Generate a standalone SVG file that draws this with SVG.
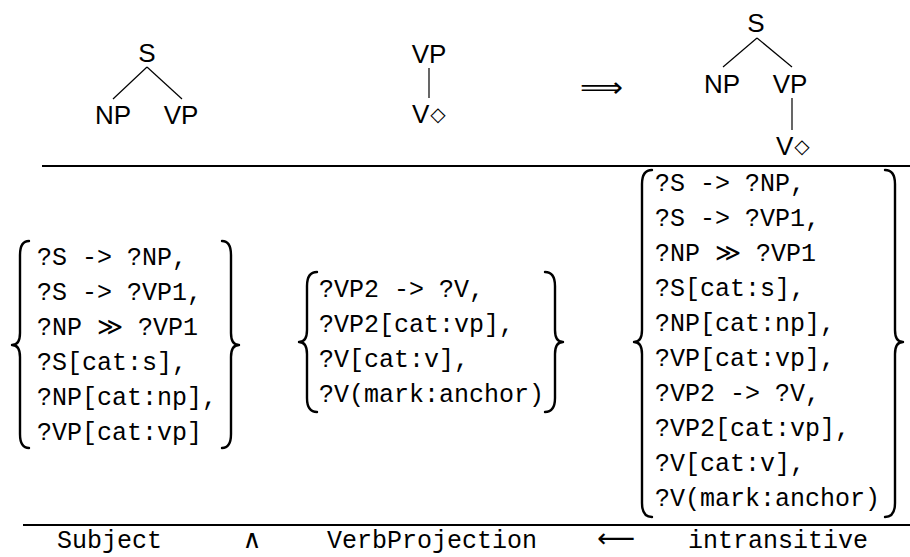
<svg xmlns="http://www.w3.org/2000/svg" width="910" height="557" viewBox="0 0 910 557">
<style>
.t{font-family:"Liberation Sans","DejaVu Sans",sans-serif;font-size:26px;fill:#000}
.m{font-family:"Liberation Mono","DejaVu Sans Mono",monospace;font-size:25px;fill:#000}
.sym{font-family:"DejaVu Sans",sans-serif;fill:#000}
.dia{font-family:"DejaVu Sans",sans-serif;font-size:20px;fill:#000}
.e{stroke:#000;stroke-width:1.2;fill:none}
.rule{stroke:#000;stroke-width:2.2}
.br{stroke:#000;stroke-width:2.4;fill:none;stroke-linecap:round;stroke-linejoin:round}
</style>
<rect width="910" height="557" fill="#fff"/>
<g id="connectors">
<line class="e" x1="147" y1="67" x2="113" y2="99"/>
<line class="e" x1="147" y1="67" x2="182" y2="99"/>
<line class="e" x1="429" y1="68" x2="429" y2="98"/>
<line class="e" x1="757" y1="38" x2="723" y2="67"/>
<line class="e" x1="757" y1="38" x2="792" y2="67"/>
<line class="e" x1="792" y1="98" x2="792" y2="130"/>
</g>
<g id="tree1">
<text class="t" x="147" y="62" text-anchor="middle">S</text>
<text class="t" x="113" y="124" text-anchor="middle">NP</text>
<text class="t" x="181" y="124" text-anchor="middle">VP</text>
</g>
<g id="tree2">
<text class="t" x="429" y="63" text-anchor="middle">VP</text>
<text class="t" x="412" y="123">V<tspan class="dia" dx="1" dy="-2">◇</tspan></text>
</g>
<g id="implies">
<text class="sym" x="580" y="97" font-size="28" textLength="43" lengthAdjust="spacingAndGlyphs">⟹</text>
</g>
<g id="tree3">
<text class="t" x="756" y="32" text-anchor="middle">S</text>
<text class="t" x="722" y="93" text-anchor="middle">NP</text>
<text class="t" x="790" y="93" text-anchor="middle">VP</text>
<text class="t" x="776" y="155">V<tspan class="dia" dx="1" dy="-2">◇</tspan></text>
</g>
<g id="rules">
<line class="rule" x1="42" y1="166" x2="910" y2="166"/>
<line class="rule" x1="23" y1="525" x2="910" y2="525"/>
</g>
<g id="subject-set">
<path class="br" d="M29,241 Q20,241 20,255 L20,333 Q20,345 12,345 Q20,345 20,357 L20,434 Q20,448 29,448"/>
<path class="br" d="M222,241 Q231,241 231,255 L231,333 Q231,345 239,345 Q231,345 231,357 L231,434 Q231,448 222,448"/>
<text class="m" x="37" y="265">?S -&gt; ?NP,</text>
<text class="m" x="37" y="300">?S -&gt; ?VP1,</text>
<text class="m" x="37" y="335">?NP ≫ ?VP1</text>
<text class="m" x="37" y="370">?S[cat:s],</text>
<text class="m" x="37" y="405">?NP[cat:np],</text>
<text class="m" x="37" y="440">?VP[cat:vp]</text>
</g>
<g id="verbprojection-set">
<path class="br" d="M317,272 Q307,272 307,286 L307,330 Q307,342 299,342 Q307,342 307,354 L307,398 Q307,412 317,412"/>
<path class="br" d="M545,272 Q555,272 555,286 L555,330 Q555,342 563,342 Q555,342 555,354 L555,398 Q555,412 545,412"/>
<text class="m" x="319" y="297">?VP2 -&gt; ?V,</text>
<text class="m" x="319" y="332">?VP2[cat:vp],</text>
<text class="m" x="319" y="367">?V[cat:v],</text>
<text class="m" x="319" y="402">?V(mark:anchor)</text>
</g>
<g id="intransitive-set">
<path class="br" d="M652,170 Q642,170 642,184 L642,330 Q642,342 634,342 Q642,342 642,354 L642,503 Q642,517 652,517"/>
<path class="br" d="M885,170 Q895,170 895,184 L895,330 Q895,342 903,342 Q895,342 895,354 L895,503 Q895,517 885,517"/>
<text class="m" x="655" y="191">?S -&gt; ?NP,</text>
<text class="m" x="655" y="226">?S -&gt; ?VP1,</text>
<text class="m" x="655" y="261">?NP ≫ ?VP1</text>
<text class="m" x="655" y="296">?S[cat:s],</text>
<text class="m" x="655" y="331">?NP[cat:np],</text>
<text class="m" x="655" y="366">?VP[cat:vp],</text>
<text class="m" x="655" y="401">?VP2 -&gt; ?V,</text>
<text class="m" x="655" y="436">?VP2[cat:vp],</text>
<text class="m" x="655" y="471">?V[cat:v],</text>
<text class="m" x="655" y="506">?V(mark:anchor)</text>
</g>
<g id="bottom-labels">
<text class="m" x="57" y="548">Subject</text>
<text class="sym" x="252" y="548" font-size="26" text-anchor="middle">∧</text>
<text class="m" x="327" y="548">VerbProjection</text>
<text class="sym" x="597" y="547" font-size="26" textLength="38" lengthAdjust="spacingAndGlyphs">⟵</text>
<text class="m" x="688" y="548">intransitive</text>
</g>
</svg>
